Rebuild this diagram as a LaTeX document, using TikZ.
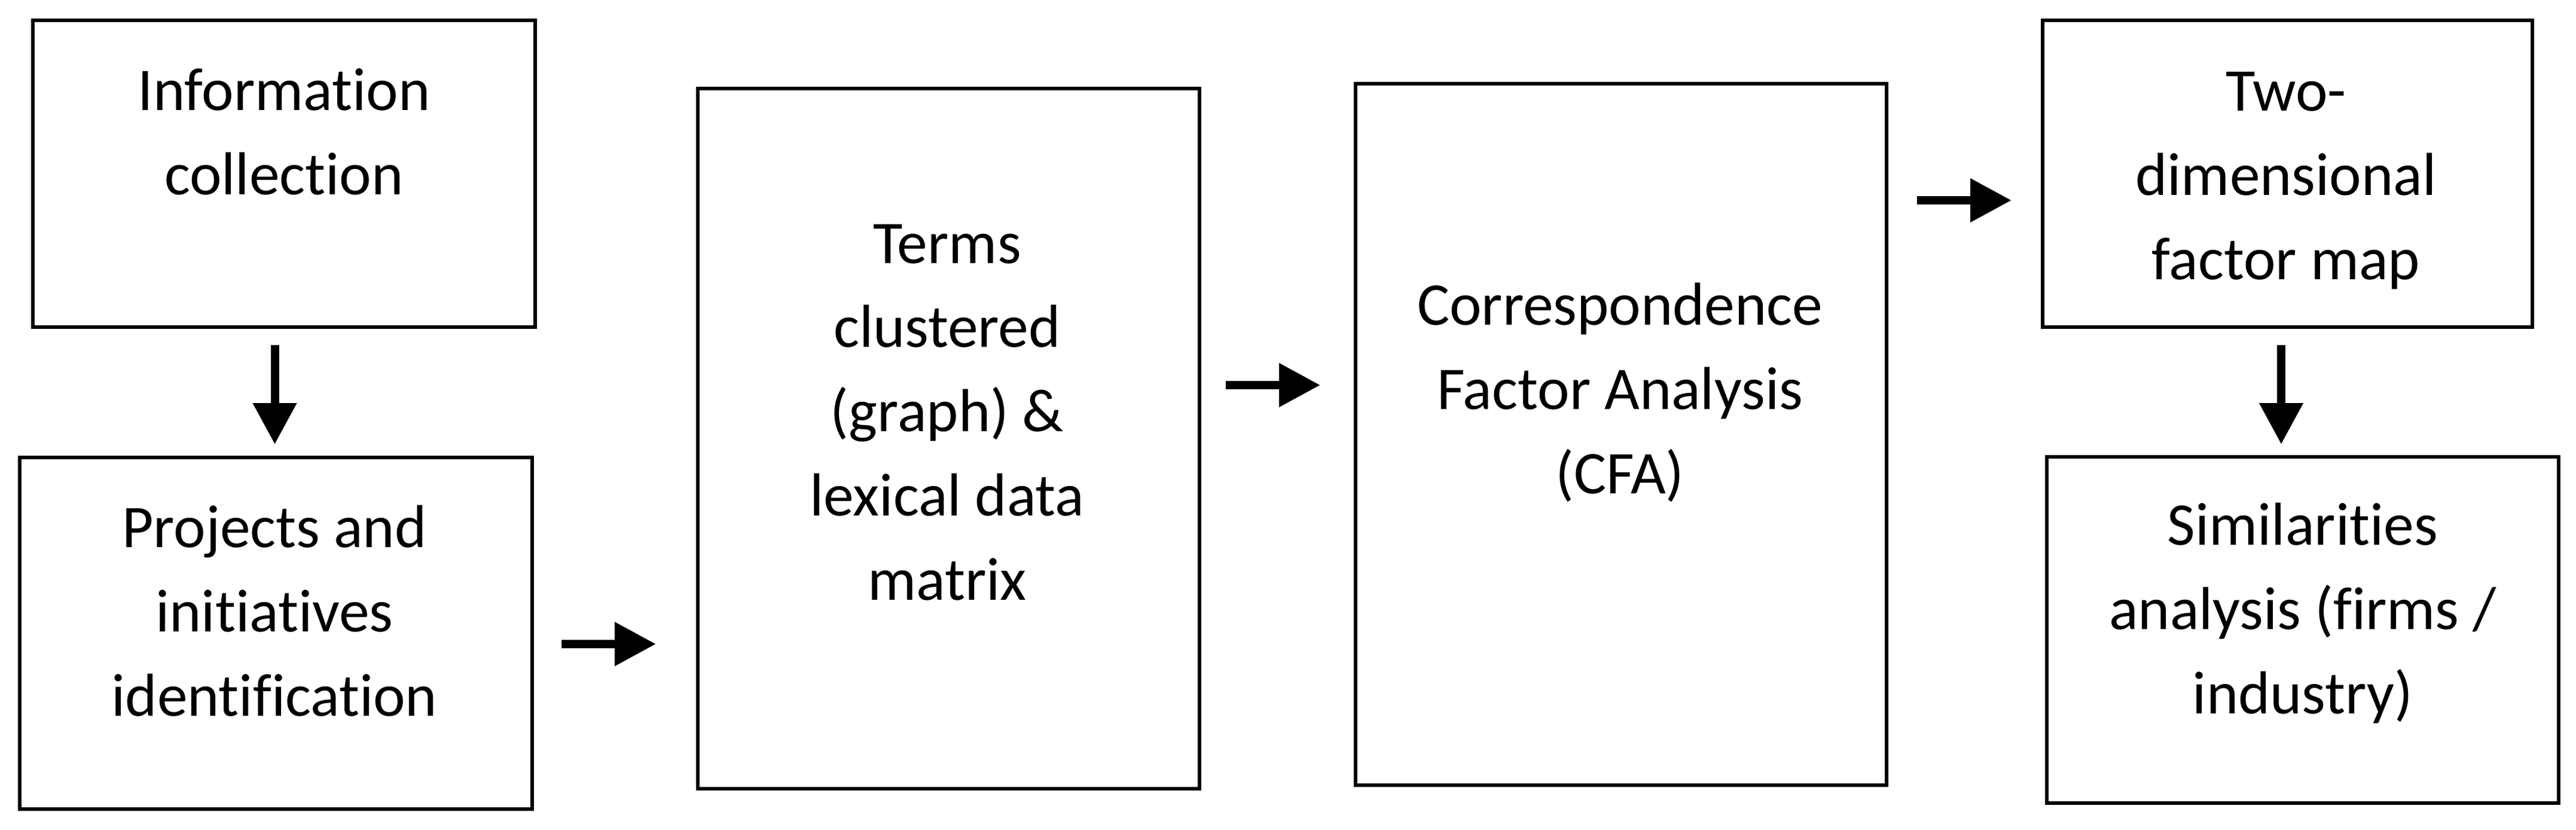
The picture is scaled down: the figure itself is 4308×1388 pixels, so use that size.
\documentclass[tikz,border=0pt]{standalone}
\usepackage{fontspec}
\setmainfont{Carlito}[Ligatures={NoCommon,NoRequired,NoContextual}]
\usetikzlibrary{arrows.meta}
\tikzset{
  box/.style={draw, line width=0.6pt, rectangle, inner sep=0pt, outer sep=0pt, fill=none},
  txt/.style={anchor=north, inner sep=0pt, outer sep=0pt, align=center,
    font=\fontsize{10.15pt}{14.1pt}\selectfont},
  arr/.style={line width=1.4pt, -{Triangle[length=6.9pt,width=7pt]}}
}
\begin{document}
\begin{tikzpicture}[x=0.1pt,y=-0.1pt]
\useasboundingbox[fill=white] (0,0) rectangle (4308,1388);
% boxes
\node[box, minimum width=84pt, minimum height=51.3pt] (b1) at (475,290.5) {};
\node[box, minimum width=85.7pt, minimum height=58.8pt] (b2) at (461.5,1059) {};
\node[box, minimum width=83.9pt, minimum height=117.1pt] (b3) at (1586.5,733.5) {};
\node[box, minimum width=88.8pt, minimum height=117.3pt] (b4) at (2711,726.5) {};
\node[box, minimum width=81.9pt, minimum height=51.3pt] (b5) at (3825.5,290.5) {};
\node[box, minimum width=85.6pt, minimum height=57.9pt] (b6) at (3851,1053.5) {};
% texts
\node[txt] (t1) at (475,86.3) {\strut Information\\collection};
\node[txt] (t2) at (459,817.3) {\strut Projects and\\initiatives\\identification};
\node[txt] (t3) at (1584,341.3) {\strut Terms\\clustered\\(graph) \&\\lexical data\\matrix};
\node[txt] (t4) at (2709,445.3) {\strut Correspondence\\Factor Analysis\\(CFA)};
\node[txt] (t5) at (3823,87.3) {\strut Two-\\dimensional\\factor map};
\node[txt] (t6) at (3851,813.3) {\strut Similarities\\analysis (firms /\\industry)};
% arrows
\draw[arr, shorten <=3pt, shorten >=2.2pt] ([xshift=-0.2pt]b1.south -| b2.north) -- ([xshift=-0.2pt]b2.north);
\draw[arr, shorten <=4.9pt, shorten >=7pt] ([yshift=-1.8pt]b2.east) -- ([yshift=-1.8pt]b2.east -| b3.west);
\draw[arr, shorten <=4.4pt, shorten >=5.9pt] ([yshift=8.95pt]b3.east) -- ([yshift=8.95pt]b3.east -| b4.west);
\draw[arr, shorten <=5.1pt, shorten >=5.2pt] ([yshift=-4.45pt]b5.west -| b4.east) -- ([yshift=-4.45pt]b5.west);
\draw[arr, shorten <=3pt, shorten >=2.1pt] ([xshift=-1.05pt]b5.south) -- ([xshift=-1.05pt]b5.south |- b6.north);
\end{tikzpicture}
\end{document}
